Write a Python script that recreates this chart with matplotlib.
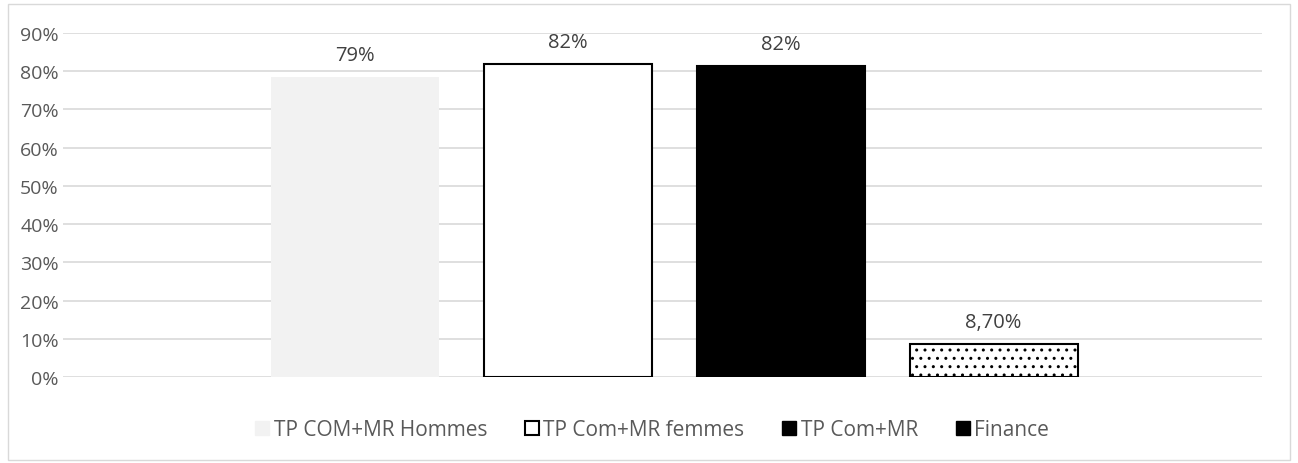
import matplotlib
matplotlib.use("Agg")
import matplotlib.pyplot as plt
from matplotlib.patches import Rectangle
from matplotlib.lines import Line2D
import numpy as np

plt.rcParams['font.family'] = ['Open Sans', 'DejaVu Sans']
plt.rcParams['hatch.linewidth'] = 1.0

series = ["TP COM+MR Hommes", "TP Com+MR femmes", "TP Com+MR", "Finance"]
values = [0.785, 0.818, 0.813, 0.087]
labels = ["79%", "82%", "82%", "8,70%"]
facecolors = ["#f2f2f2", "#ffffff", "#000000", "#ffffff"]
edgecolors = ["none", "#000000", "#000000", "#000000"]
hatches = [None, None, None, ".."]
yticks = np.arange(0, 0.91, 0.1)

fig = plt.figure(figsize=(12.98, 4.64), dpi=100)
ax = fig.add_axes([63/1298, 1-378/464, (1262-63)/1298, (378-34)/464])

x = np.arange(len(series))
w = 0.79
for i in range(len(series)):
    ax.bar(x[i], values[i], width=w, color=facecolors[i], edgecolor=edgecolors[i],
           linewidth=1.5, hatch=hatches[i], zorder=3)
    ax.text(x[i], values[i] + 0.045, labels[i], ha='center', va='baseline',
            fontsize=14.5, color='#404040', zorder=4)

ax.set_xlim(-1.37, 4.26)
ax.set_ylim(0, 0.9)
ax.set_yticks(yticks)
ax.set_yticklabels([f"{int(round(t*100))}%" for t in yticks], fontsize=14, color='#595959')
ax.set_xticks([])
ax.grid(axis='y', color='#d9d9d9', linewidth=1.2, zorder=0)
for s in ax.spines.values():
    s.set_visible(False)
ax.tick_params(axis='y', length=0, pad=3)

handles = [
    Line2D([], [], marker='s', linestyle='none', markersize=9.5, markerfacecolor='#f2f2f2', markeredgecolor='#f2f2f2'),
    Line2D([], [], marker='s', linestyle='none', markersize=9.5, markerfacecolor='#ffffff', markeredgecolor='#000000', markeredgewidth=1.5),
    Line2D([], [], marker='s', linestyle='none', markersize=9.5, markerfacecolor='#000000', markeredgecolor='#000000'),
    Line2D([], [], marker='s', linestyle='none', markersize=9.5, markerfacecolor='#000000', markeredgecolor='#000000'),
]
leg = fig.legend(handles, series, loc='center', bbox_to_anchor=(652/1298, 1-431/464),
                 ncol=4, frameon=False, fontsize=15, handletextpad=0.2,
                 columnspacing=1.8, handlelength=0.7)
for t in leg.get_texts():
    t.set_color('#595959')

fig.patches.append(Rectangle((8/1298, 3/464), 1282/1298, 456/464, transform=fig.transFigure,
                             fill=False, edgecolor='#d9d9d9', linewidth=1))

fig.savefig("out.png", dpi=100)
